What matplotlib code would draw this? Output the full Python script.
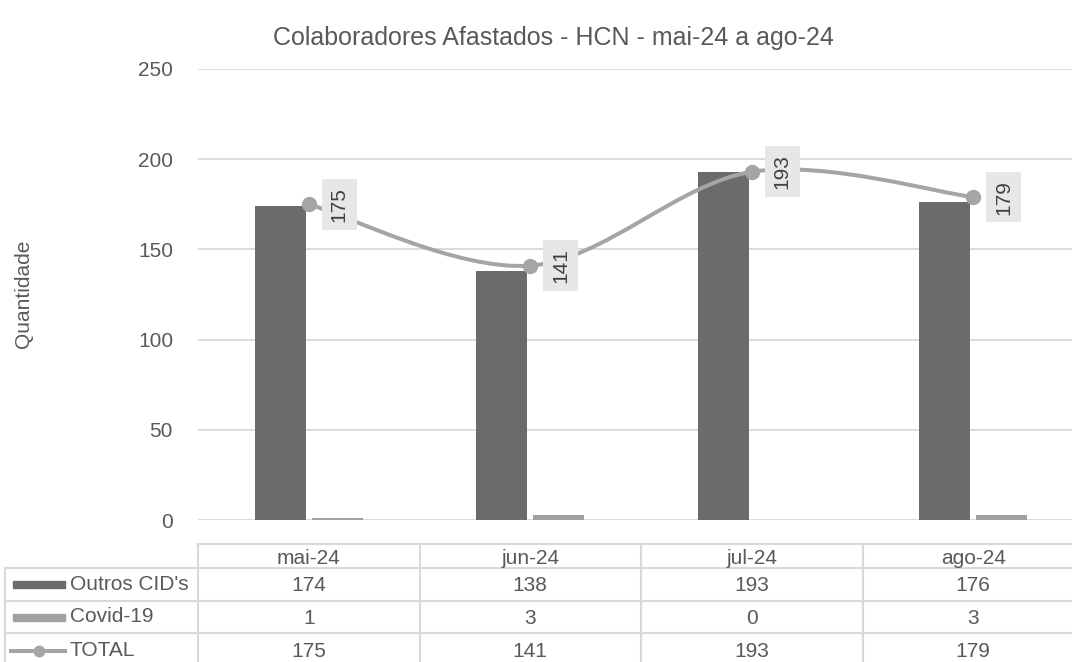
import numpy as np
import matplotlib
matplotlib.use("Agg")
import matplotlib.pyplot as plt
from matplotlib.path import Path
from matplotlib.patches import PathPatch, Rectangle
from matplotlib.lines import Line2D
from matplotlib.transforms import blended_transform_factory

# dados
meses = ["mai-24", "jun-24", "jul-24", "ago-24"]
outros = [174, 138, 193, 176]
covid = [1, 3, 0, 3]
total = [175, 141, 193, 179]
series_nomes = ["Outros CID's", "Covid-19", "TOTAL"]
y_ticks = [0, 50, 100, 150, 200, 250]

COR_OUTROS = "#6B6B6B"
COR_COVID = "#A0A0A0"
COR_TOTAL = "#A5A5A5"
COR_TEXTO = "#595959"
COR_GRADE = "#D9D9D9"

plt.rcParams["font.family"] = ["Liberation Sans", "DejaVu Sans"]

W, H = 1072, 662
fig = plt.figure(figsize=(W / 100, H / 100), dpi=100)

def px(x0, y_top, x1, y_bot):
    return [x0 / W, 1 - y_bot / H, (x1 - x0) / W, (y_bot - y_top) / H]

ax = fig.add_axes(px(198, 69, 1084, 520))
x = np.arange(len(meses))
larg = 0.23
desl = 0.128
ax.bar(x - desl, outros, larg, color=COR_OUTROS, zorder=2)
ax.bar(x + desl, covid, larg, color=COR_COVID, zorder=2)

# linha suavizada (Catmull-Rom -> Bezier)
pts = np.column_stack([x, total]).astype(float)
ext = np.vstack([pts[0], pts, pts[-1]])
verts = [tuple(pts[0])]
codes = [Path.MOVETO]
for i in range(len(pts) - 1):
    p0, p1, p2, p3 = ext[i], ext[i + 1], ext[i + 2], ext[i + 3]
    c1 = p1 + (p2 - p0) / 6
    c2 = p2 - (p3 - p1) / 6
    verts += [tuple(c1), tuple(c2), tuple(p2)]
    codes += [Path.CURVE4] * 3
ax.add_patch(PathPatch(Path(verts, codes), facecolor="none", edgecolor=COR_TOTAL,
                       lw=2.9, zorder=3, capstyle="round"))
ax.plot(x, total, "o", color=COR_TOTAL, ms=10, zorder=4)

for xi, v in zip(x, total):
    ax.annotate(str(v), (xi, v), xytext=(22, 0), textcoords="offset points",
                rotation=90, ha="center", va="center", fontsize=15, color="#404040",
                bbox=dict(boxstyle="square,pad=0.38", fc="#E7E7E7", ec="none"), zorder=5)

ax.set_xlim(-0.5, len(meses) - 0.5)
ax.set_ylim(0, 250)
ax.set_yticks(y_ticks)
ax.yaxis.grid(True, color=COR_GRADE, lw=1.3)
ax.set_axisbelow(True)
for s in ax.spines.values():
    s.set_visible(False)
ax.tick_params(axis="y", length=0, pad=18, labelsize=15, labelcolor=COR_TEXTO)
ax.tick_params(axis="x", length=0, labelbottom=False)

fig.text(553 / W, 1 - 38 / H, "Colaboradores Afastados - HCN - mai-24 a ago-24",
         ha="center", va="center", fontsize=18, color=COR_TEXTO)
fig.text(23 / W, 1 - 294 / H, "Quantidade", rotation=90, ha="center", va="center",
         fontsize=15, color=COR_TEXTO)

# tabela de dados
axt = fig.add_axes(px(198, 544, 1084, 668), sharex=ax)
axt.set_ylim(124, 0)
axt.axis("off")
linhas = [0, 24, 57, 89, 124]
tr = blended_transform_factory(fig.transFigure, axt.transData)
x_esq = 5 / W
x_dir = 1084 / W
lkw = dict(color=COR_GRADE, lw=1.5, clip_on=False)

axt.plot([-0.5, len(meses) - 0.5], [linhas[0]] * 2, **lkw)
for yl in linhas[1:4]:
    axt.add_line(Line2D([x_esq, x_dir], [yl, yl], transform=tr, **lkw))
for b in np.arange(len(meses) + 1) - 0.5:
    axt.plot([b, b], [linhas[0], linhas[-1]], **lkw)
axt.add_line(Line2D([x_esq, x_esq], [linhas[1], linhas[-1]], transform=tr, **lkw))

fs = 15
for i, m in enumerate(meses):
    axt.text(i, (linhas[0] + linhas[1]) / 2 + 2, m, ha="center", va="center",
             fontsize=fs, color=COR_TEXTO)
for r, vals in enumerate([outros, covid, total]):
    yc = (linhas[r + 1] + linhas[r + 2]) / 2
    for i, v in enumerate(vals):
        axt.text(i, yc + 1, str(v), ha="center", va="center", fontsize=fs, color=COR_TEXTO)
    axt.text(70 / W, yc, series_nomes[r], transform=tr, ha="left", va="center",
             fontsize=fs, color=COR_TEXTO)

# chaves da legenda
yc0 = (linhas[1] + linhas[2]) / 2
yc1 = (linhas[2] + linhas[3]) / 2
yc2 = (linhas[3] + linhas[4]) / 2
axt.add_patch(Rectangle((13 / W, yc0 - 3.5), 52 / W, 7, transform=tr,
                        color=COR_OUTROS, clip_on=False))
axt.add_patch(Rectangle((13 / W, yc1 - 3.5), 52 / W, 7, transform=tr,
                        color=COR_COVID, clip_on=False))
axt.add_line(Line2D([11 / W, 65 / W], [yc2, yc2], transform=tr, color=COR_TOTAL,
                    lw=2.9, clip_on=False))
axt.add_line(Line2D([39 / W], [yc2], transform=tr, color=COR_TOTAL, marker="o",
                    ms=7.5, clip_on=False))

fig.savefig("out.png", dpi=100)
